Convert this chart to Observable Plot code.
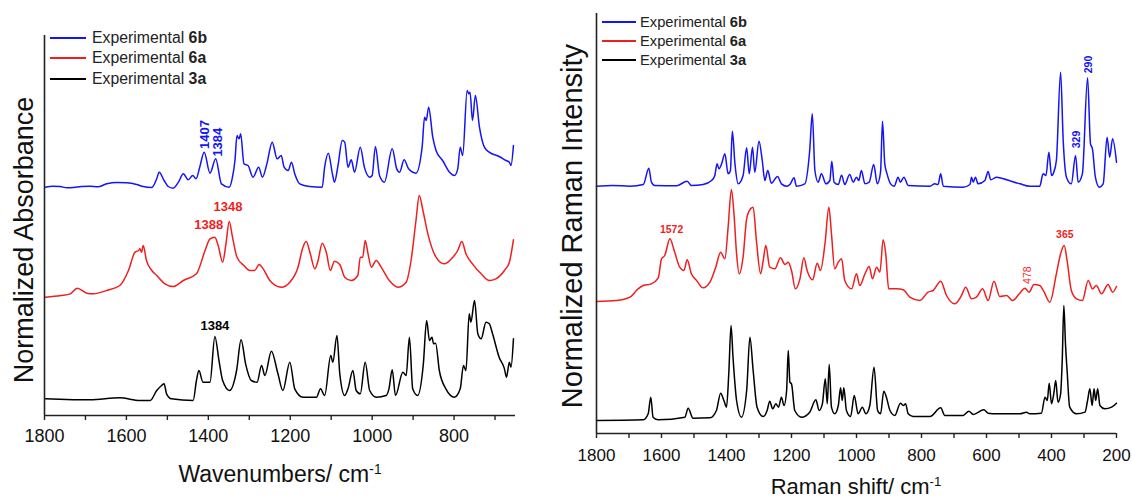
<!DOCTYPE html>
<html>
<head>
<meta charset="utf-8">
<script src="https://cdn.jsdelivr.net/npm/d3@7"></script>
<script src="https://cdn.jsdelivr.net/npm/@observablehq/plot@0.6"></script>
<style>
  body { margin: 0; background: #fff; font-family: "Liberation Sans", Arial, sans-serif; }
  #wrap { position: relative; width: 1132px; height: 500px; overflow: hidden; background: #fff; }
  .panel { position: absolute; top: 0; }
  .lab { position: absolute; white-space: nowrap; color: #111; line-height: 1; }
  .lab sup { font-size: 0.6em; vertical-align: 0.6em; line-height: 0; }
  .legrow { position: absolute; white-space: nowrap; color: #222; display: flex; align-items: center; line-height: 1; }
  .legrow svg { display: block; }
</style>
</head>
<body>
<div id="wrap"></div>
<script>
// ---------- DATA (wavenumber cm-1, relative intensity a.u.) ----------
const legendNames = ["6b", "6a", "3a"];
const seriesColors = ["#1414f5", "#f01e1e", "#000000"];

// FT-IR panel
const ir6b = [[1798,685],[1780,688],[1762,687],[1745,683],[1729,684],[1710,687],[1689,688],[1670,686],[1648,695],[1624,699],[1599,698],[1575,693],[1559,687],[1538,684],[1526,710],[1520,730],[1508,705],[1498,687],[1486,682],[1473,700],[1461,725],[1449,707],[1438,720],[1430,710],[1421,745],[1410,790],[1396,727],[1382,770],[1368,695],[1349,685],[1341,715],[1335,765],[1330,840],[1325,830],[1321,845],[1313,755],[1303,750],[1291,715],[1277,745],[1268,715],[1257,755],[1244,820],[1232,770],[1222,780],[1215,745],[1205,735],[1197,760],[1189,725],[1177,695],[1153,687],[1122,685],[1116,745],[1107,787],[1097,725],[1092,700],[1084,745],[1073,825],[1067,820],[1059,745],[1051,767],[1043,730],[1029,805],[1019,745],[1006,715],[1000,720],[992,807],[982,720],[970,700],[951,800],[940,740],[933,730],[922,767],[911,740],[893,727],[878,805],[872,895],[868,885],[862,925],[852,835],[844,795],[828,765],[811,730],[799,720],[791,740],[785,805],[779,780],[768,975],[764,965],[761,970],[755,885],[748,960],[738,865],[726,805],[714,790],[690,777],[673,765],[665,760],[661,750],[655,810]];
const ir6a = [[1798,355],[1760,360],[1737,365],[1720,382],[1697,367],[1681,365],[1648,375],[1616,390],[1595,435],[1579,490],[1570,495],[1567,500],[1563,490],[1559,510],[1551,465],[1538,435],[1526,420],[1506,395],[1486,387],[1461,405],[1429,425],[1408,495],[1396,530],[1384,535],[1376,510],[1365,460],[1357,515],[1349,582],[1341,535],[1330,475],[1313,450],[1299,435],[1287,435],[1276,453],[1266,440],[1250,405],[1222,385],[1201,400],[1181,445],[1169,505],[1161,522],[1151,485],[1140,440],[1132,465],[1122,517],[1112,490],[1102,435],[1092,463],[1079,453],[1067,415],[1051,405],[1035,420],[1029,475],[1023,475],[1017,525],[1010,485],[1002,445],[990,465],[978,445],[958,405],[937,385],[917,400],[905,465],[893,585],[885,660],[876,615],[864,545],[844,475],[824,455],[803,475],[791,495],[781,522],[771,485],[755,455],[734,425],[714,405],[698,410],[677,435],[665,460],[655,527]];
const ir3a = [[1798,50],[1746,48],[1689,47],[1616,53],[1567,45],[1542,45],[1526,75],[1514,90],[1508,95],[1502,65],[1490,50],[1437,45],[1429,105],[1423,135],[1413,100],[1396,100],[1384,237],[1374,165],[1365,105],[1348,75],[1331,135],[1320,227],[1309,155],[1295,105],[1281,100],[1270,150],[1262,120],[1246,193],[1230,125],[1218,75],[1201,160],[1189,80],[1169,55],[1136,55],[1126,80],[1116,60],[1101,180],[1096,160],[1086,240],[1079,125],[1067,60],[1059,80],[1047,135],[1039,75],[1029,65],[1017,160],[1006,75],[990,55],[966,60],[959,80],[951,137],[943,60],[925,130],[917,120],[909,235],[901,80],[889,60],[875,155],[867,285],[860,225],[854,235],[850,215],[845,217],[836,135],[820,80],[799,55],[785,80],[777,150],[771,135],[763,305],[759,280],[750,345],[742,245],[734,230],[722,280],[714,275],[706,245],[690,175],[677,140],[672,115],[665,160],[661,145],[655,230]];
const irTicks = [1800, 1600, 1400, 1200, 1000, 800];
const irMinor = [1700, 1500, 1300, 1100, 900, 700];
const irNotes = [
  {w: 1408, v: 843, t: "1407", s: 0, rot: true},
  {w: 1378, v: 820, t: "1384", s: 0, rot: true},
  {w: 1352, v: 625, t: "1348", s: 1, rot: false},
  {w: 1399, v: 572, t: "1388", s: 1, rot: false},
  {w: 1384, v: 268, t: "1384", s: 2, rot: false}
];

// Raman panel
const ram6b = [[1800,742],[1750,744],[1697,742],[1656,747],[1639,796],[1631,754],[1621,744],[1554,743],[1521,757],[1508,744],[1472,747],[1446,759],[1436,774],[1429,809],[1423,794],[1415,809],[1405,839],[1395,779],[1388,789],[1382,907],[1374,809],[1364,749],[1349,774],[1338,857],[1330,779],[1320,859],[1313,784],[1300,877],[1290,819],[1282,759],[1273,789],[1262,751],[1243,771],[1231,749],[1215,742],[1205,747],[1192,767],[1185,742],[1159,749],[1144,849],[1136,959],[1128,789],[1118,754],[1108,779],[1094,749],[1082,759],[1076,817],[1069,754],[1056,747],[1046,775],[1036,747],[1021,777],[1010,754],[1000,769],[993,759],[985,789],[974,749],[961,754],[947,807],[936,749],[926,784],[920,937],[913,809],[906,779],[895,749],[884,742],[872,769],[865,754],[854,769],[841,744],[774,742],[759,749],[749,747],[741,779],[733,742],[672,739],[651,747],[646,769],[641,754],[634,769],[626,749],[605,759],[595,786],[587,761],[569,769],[538,761],[497,749],[467,742],[436,742],[426,779],[417,774],[408,844],[400,774],[393,784],[385,819],[372,1084],[364,879],[354,769],[339,749],[326,834],[318,754],[305,779],[289,1067],[280,869],[274,854],[265,769],[253,739],[241,749],[229,889],[221,829],[212,884],[200,814]];
const ram6a = [[1800,396],[1738,399],[1697,409],[1672,434],[1656,444],[1631,449],[1610,467],[1600,524],[1590,534],[1574,584],[1561,549],[1544,499],[1531,489],[1521,521],[1508,479],[1492,459],[1472,437],[1451,454],[1433,499],[1418,544],[1405,524],[1395,619],[1385,732],[1377,659],[1369,539],[1361,479],[1349,529],[1338,644],[1326,674],[1318,679],[1308,579],[1295,479],[1287,519],[1279,564],[1267,499],[1251,494],[1234,527],[1220,507],[1210,514],[1200,489],[1188,434],[1174,464],[1162,527],[1152,489],[1135,461],[1121,511],[1111,489],[1097,569],[1085,679],[1077,599],[1067,494],[1056,514],[1046,524],[1036,459],[1015,434],[1000,479],[990,444],[974,479],[961,501],[951,464],[938,499],[928,484],[918,581],[910,539],[901,434],[877,434],[856,431],[836,409],[805,399],[780,424],[764,429],[741,457],[723,414],[698,389],[677,414],[664,439],[646,404],[631,409],[612,434],[595,399],[577,457],[559,411],[538,414],[520,399],[499,419],[482,436],[469,424],[454,447],[436,444],[424,427],[405,394],[385,479],[372,539],[361,564],[352,519],[339,429],[323,404],[305,399],[287,459],[274,434],[262,444],[246,419],[226,447],[212,424],[200,441]];
const ram3a = [[1800,39],[1656,41],[1641,59],[1633,109],[1626,49],[1610,41],[1528,49],[1518,76],[1503,46],[1451,47],[1431,69],[1418,121],[1408,99],[1400,79],[1393,179],[1386,324],[1380,229],[1369,99],[1354,49],[1338,129],[1328,289],[1318,189],[1306,79],[1287,51],[1275,69],[1267,97],[1258,74],[1248,89],[1240,79],[1231,109],[1223,84],[1215,129],[1210,249],[1205,154],[1200,149],[1190,69],[1169,49],[1144,64],[1125,101],[1115,69],[1105,89],[1096,164],[1090,89],[1084,207],[1077,79],[1067,59],[1056,84],[1049,137],[1044,99],[1039,137],[1031,69],[1018,51],[1007,114],[995,59],[982,79],[971,59],[959,84],[946,199],[935,69],[926,59],[916,127],[908,109],[897,69],[882,54],[865,91],[856,84],[849,89],[841,59],[826,51],[774,51],[741,77],[728,54],[672,54],[654,67],[641,57],[608,71],[595,61],[569,59],[497,59],[477,64],[467,59],[431,61],[420,109],[413,99],[407,151],[400,89],[393,119],[387,159],[380,94],[372,119],[367,219],[362,384],[357,269],[352,189],[344,79],[323,59],[297,64],[289,99],[282,134],[275,84],[269,134],[264,99],[258,134],[251,84],[236,74],[215,79],[200,91]];
const ramTicks = [1800, 1600, 1400, 1200, 1000, 800, 600, 400, 200];
const ramMinor = [1700, 1500, 1300, 1100, 900, 700, 500, 300];
const ramNotes = [
  {w: 1569, v: 612, t: "1572", s: 1, rot: false, bold: true},
  {w: 359, v: 597, t: "365", s: 1, rot: false, bold: true},
  {w: 475, v: 475, t: "478", s: 1, rot: true, bold: false},
  {w: 323, v: 882, t: "329", s: 0, rot: true, bold: true},
  {w: 285, v: 1107, t: "290", s: 0, rot: true, bold: true}
];

// ---------- BUILD ----------
const FONT = "'Liberation Sans', Arial, Helvetica, sans-serif";
const AX = "#222";

function rows(arr) { return arr.map(([w, v]) => ({w, v})); }

function panel(cfg) {
  const marks = [];
  cfg.series.forEach((s, i) => {
    marks.push(Plot.line(rows(s), {x: "w", y: "v", stroke: seriesColors[i], strokeWidth: 1.5, curve: "monotone-x"}));
  });
  marks.push(Plot.ruleY([0], {stroke: AX, strokeWidth: 1.6}));
  marks.push(Plot.ruleX([1800], {stroke: AX, strokeWidth: 1.6}));
  marks.push(Plot.axisX({ticks: cfg.ticks, tickSize: 5, tickPadding: cfg.pad, fontSize: cfg.tickFont, stroke: AX, strokeWidth: 1.4, fill: "#111", label: null, tickFormat: d => String(d)}));
  marks.push(Plot.axisX({ticks: cfg.minor, tickSize: 5, stroke: AX, strokeWidth: 1.4, label: null, tickFormat: () => ""}));
  cfg.notes.forEach(n => {
    marks.push(Plot.text([n], {x: "w", y: "v", text: "t", fill: seriesColors[n.s], fontSize: n.rot ? cfg.noteRotFont : cfg.noteFont,
      fontWeight: n.bold === false ? "normal" : "bold", rotate: n.rot ? -90 : 0, textAnchor: "middle", lineAnchor: "middle"}));
  });
  return Plot.plot({
    width: cfg.width, height: 500,
    marginLeft: cfg.ml, marginRight: cfg.mr, marginTop: cfg.mt, marginBottom: cfg.mb,
    x: {domain: cfg.xDomain, label: null},
    y: {domain: cfg.yDomain, axis: null},
    style: {fontFamily: FONT, background: "transparent", overflow: "visible"},
    marks
  });
}

const wrap = document.getElementById("wrap");

const left = panel({
  width: 560, ml: 44, mr: 45, mt: 35, mb: 85,
  xDomain: [1800, 650], yDomain: [0, 1140],
  series: [ir6b, ir6a, ir3a], ticks: irTicks, minor: irMinor, pad: 9, tickFont: 18,
  notes: irNotes, noteFont: 13, noteRotFont: 13
});
left.classList.add("panel"); left.style.left = "0px";
wrap.appendChild(left);

const right = panel({
  width: 572, ml: 36, mr: 16, mt: 13, mb: 67,
  xDomain: [1800, 200], yDomain: [0, 1260],
  series: [ram6b, ram6a, ram3a], ticks: ramTicks, minor: ramMinor, pad: 10, tickFont: 17,
  notes: ramNotes, noteFont: 10.5, noteRotFont: 10.5
});
right.classList.add("panel"); right.style.left = "560px";
wrap.appendChild(right);

// axis titles
function addLab(html, css) {
  const d = document.createElement("div");
  d.className = "lab"; d.innerHTML = html;
  Object.assign(d.style, css);
  wrap.appendChild(d);
}
addLab("Normalized Absorbance", {left: "24px", top: "240px", fontSize: "27px", transform: "translate(-50%,-50%) rotate(-90deg)"});
addLab("Wavenumbers/ cm<sup>-1</sup>", {left: "280px", top: "463px", fontSize: "23px", transform: "translateX(-50%)"});
addLab("Normalized Raman Intensity", {left: "572px", top: "226px", fontSize: "29px", transform: "translate(-50%,-50%) rotate(-90deg)"});
addLab("Raman shift/ cm<sup>-1</sup>", {left: "856px", top: "476px", fontSize: "22px", transform: "translateX(-50%)"});

// legends
function legend(x0, x1, tx, ys, fs) {
  legendNames.forEach((nm, i) => {
    const r = document.createElement("div");
    r.className = "legrow";
    r.style.left = x0 + "px";
    r.style.top = (ys[i] - 10) + "px";
    r.style.height = "20px";
    r.style.fontSize = fs + "px";
    const w = x1 - x0;
    r.innerHTML = `<svg width="${w}" height="20"><line x1="0" x2="${w}" y1="10" y2="10" stroke="${seriesColors[i]}" stroke-width="2"/></svg>` +
      `<span style="margin-left:${tx - x1}px">Experimental <b>${nm}</b></span>`;
    wrap.appendChild(r);
  });
}
legend(50, 86, 92, [38, 58, 79], 15.8);
legend(602, 636, 640, [22, 41, 60], 14.7);
</script>
</body>
</html>
